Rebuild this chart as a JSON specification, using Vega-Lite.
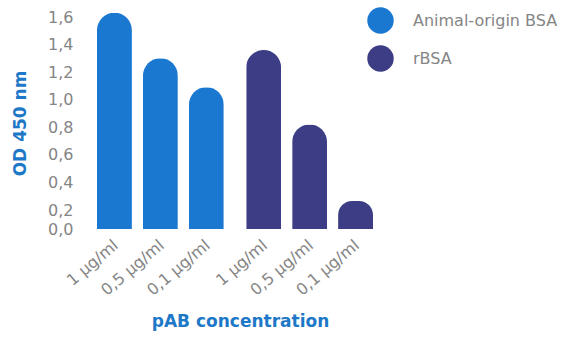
{
  "$schema": "https://vega.github.io/schema/vega-lite/v6.json",
  "autosize": "none",
  "width": 276,
  "height": 219,
  "padding": {"left": 97, "top": 10, "right": 200, "bottom": 119},
  "background": "#ffffff",
  "config": {
    "view": {"stroke": null},
    "font": "DejaVu Sans",
    "axisY": {
      "values": [0, 0.2, 0.4, 0.6, 0.8, 1.0, 1.2, 1.4, 1.6],
      "labelExpr": "replace(format(datum.value, '.1f'), '.', ',')",
      "labelOverlap": false,
      "labelSeparation": 0,
      "domain": false,
      "ticks": false,
      "grid": false,
      "labelPadding": 24,
      "labelFontSize": 16,
      "labelColor": "#858585",
      "titleFontSize": 17,
      "titleFontWeight": "bold",
      "titleColor": "#1e78c8",
      "titlePadding": 18
    }
  },
  "data": {
    "values": [
      {"serum": "Animal-origin BSA", "conc": "1 µg/ml", "od": 1.63},
      {"serum": "Animal-origin BSA", "conc": "0,5 µg/ml", "od": 1.30},
      {"serum": "Animal-origin BSA", "conc": "0,1 µg/ml", "od": 1.09},
      {"serum": "rBSA", "conc": "1 µg/ml", "od": 1.36},
      {"serum": "rBSA", "conc": "0,5 µg/ml", "od": 0.82},
      {"serum": "rBSA", "conc": "0,1 µg/ml", "od": 0.265}
    ]
  },
  "encoding": {
    "x": {
      "field": "serum",
      "type": "nominal",
      "sort": ["Animal-origin BSA", "rBSA"],
      "scale": {"paddingInner": 0.15, "paddingOuter": 0},
      "axis": {
        "labels": false,
        "ticks": false,
        "domain": false,
        "title": "pAB concentration",
        "titleFontSize": 17,
        "titleFontWeight": "bold",
        "titleColor": "#1e78c8",
        "titlePadding": 84,
        "titleX": 143
      }
    },
    "xOffset": {
      "field": "conc",
      "type": "nominal",
      "sort": ["1 µg/ml", "0,5 µg/ml", "0,1 µg/ml"],
      "scale": {"paddingInner": 0.24, "paddingOuter": 0}
    }
  },
  "layer": [
    {
      "mark": {"type": "bar", "cornerRadiusTopLeft": 17.5, "cornerRadiusTopRight": 17.5},
      "encoding": {
        "y": {
          "field": "od",
          "type": "quantitative",
          "scale": {"domain": [0, 0.2, 1.6], "range": [219, 200, 7], "clamp": false},
          "axis": {"title": "OD 450 nm", "values": [0, 0.2, 0.4, 0.6, 0.8, 1.0, 1.2, 1.4, 1.6]}
        },
        "color": {
          "field": "serum",
          "type": "nominal",
          "sort": ["Animal-origin BSA", "rBSA"],
          "scale": {"range": ["#1a78d0", "#3c3d85"]},
          "legend": {
            "title": null,
            "orient": "none",
            "legendX": 270,
            "legendY": -3,
            "symbolType": "circle",
            "symbolSize": 700,
            "symbolStrokeWidth": 0,
            "symbolOpacity": 1,
            "labelFontSize": 16,
            "labelColor": "#858585",
            "labelOffset": 19,
            "rowPadding": 11,
            "padding": 0
          }
        }
      }
    },
    {
      "mark": {"type": "text", "angle": 320, "align": "right", "baseline": "middle", "dy": 12, "dx": -8, "fontSize": 16, "color": "#858585"},
      "encoding": {
        "y": {"datum": 0, "type": "quantitative", "axis": {"title": "OD 450 nm", "values": [0, 0.2, 0.4, 0.6, 0.8, 1.0, 1.2, 1.4, 1.6]}},
        "text": {"field": "conc"}
      }
    }
  ]
}
